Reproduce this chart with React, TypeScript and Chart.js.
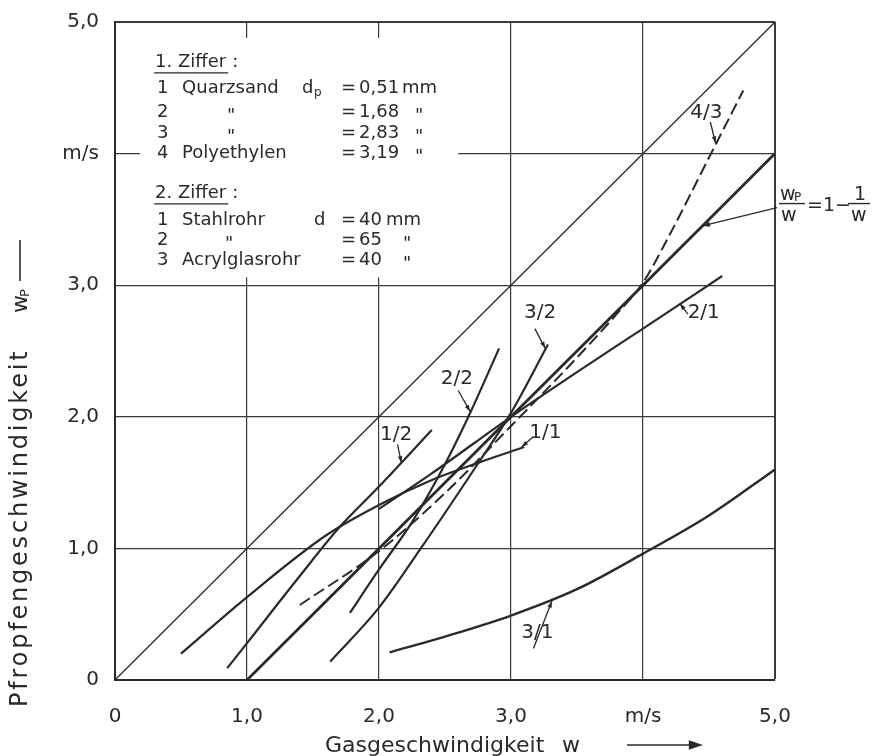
import React, { useEffect, useRef } from "react";
import { Chart, registerables } from "chart.js";
Chart.register(...registerables);

// ---------- data ----------
const xTickLabels = ["0", "1,0", "2,0", "3,0", "m/s", "5,0"];
const yTickLabels = ["0", "1,0", "2,0", "3,0", "m/s", "5,0"];

const diagW = [0, 5];
const diagWp = [0, 5];

const theoryW = [1, 2, 3, 4, 5];
const theoryWp = [0, 1, 2, 3, 4];

const c11W = [0.5, 1.0, 1.6, 2.0, 2.4, 2.75, 3.1];
const c11Wp = [0.2, 0.63, 1.1, 1.33, 1.52, 1.65, 1.77];

const c12W = [0.85, 1.0, 1.4, 1.7, 2.0, 2.4];
const c12Wp = [0.09, 0.28, 0.79, 1.16, 1.47, 1.9];

const c21W = [2.0, 2.4, 3.0, 3.5, 4.0, 4.6];
const c21Wp = [1.3, 1.57, 2.0, 2.34, 2.67, 3.07];

const c22W = [1.78, 2.0, 2.25, 2.5, 2.7, 2.91];
const c22Wp = [0.51, 0.84, 1.2, 1.64, 2.05, 2.52];

const c32W = [1.63, 2.0, 2.31, 2.74, 3.0, 3.28];
const c32Wp = [0.14, 0.55, 0.99, 1.63, 2.03, 2.55];

const c31W = [2.08, 2.5, 3.0, 3.5, 4.0, 4.5, 5.0];
const c31Wp = [0.21, 0.33, 0.49, 0.69, 0.96, 1.25, 1.6];

const c43W = [1.4, 2.0, 2.5, 3.0, 3.5, 3.8, 4.0, 4.2, 4.5, 4.76];
const c43Wp = [0.57, 0.98, 1.42, 1.93, 2.45, 2.78, 3.02, 3.38, 3.97, 4.48];

// curve labels: text, text anchor, pointer start, pointer end (data units)
const annoText = ["4/3", "2/1", "3/2", "1/1", "2/2", "1/2", "3/1"];
const annoTextW = [4.48, 4.46, 3.22, 3.26, 2.59, 2.13, 3.2];
const annoTextWp = [4.31, 2.79, 2.79, 1.88, 2.29, 1.86, 0.36];
const annoFromW = [4.51, 4.34, 3.18, 3.16, 2.6, 2.14, 3.17];
const annoFromWp = [4.24, 2.78, 2.67, 1.84, 2.2, 1.79, 0.24];
const annoToW = [4.55, 4.28, 3.26, 3.08, 2.69, 2.17, 3.31];
const annoToWp = [4.08, 2.86, 2.52, 1.77, 2.04, 1.65, 0.6];

// formula pointer
const formulaAnchor = [5.0, 3.59];
const formulaTarget = [4.45, 3.45];

// legend
const legendTitle1 = "1. Ziffer";
const legendNums1 = ["1", "2", "3", "4"];
const legendNames1 = ["Quarzsand", "\"", "\"", "Polyethylen"];
const legendVals1 = ["0,51", "1,68", "2,83", "3,19"];
const legendUnits1 = ["mm", "\"", "\"", "\""];
const legendTitle2 = "2. Ziffer";
const legendNums2 = ["1", "2", "3"];
const legendNames2 = ["Stahlrohr", "\"", "Acrylglasrohr"];
const legendVals2 = ["40", "65", "40"];
const legendUnits2 = ["mm", "\"", "\""];
const legendBoxW = [0.19, 2.6];
const legendBoxWp = [3.06, 4.88];

// ---------- styling ----------
const INK = "#2a2a2a";
const FONT = '"DejaVu Sans"';

const pts = (xs: number[], ys: number[]) => xs.map((x, i) => ({ x, y: ys[i] }));

function arrowHead(ctx: CanvasRenderingContext2D, fx: number, fy: number, tx: number, ty: number, size: number) {
  const a = Math.atan2(ty - fy, tx - fx);
  ctx.beginPath();
  ctx.moveTo(tx, ty);
  ctx.lineTo(tx - size * Math.cos(a - 0.33), ty - size * Math.sin(a - 0.33));
  ctx.lineTo(tx - size * Math.cos(a + 0.33), ty - size * Math.sin(a + 0.33));
  ctx.closePath();
  ctx.fill();
}

const overlay = {
  id: "overlay",
  beforeDraw(chart: any) {
    const { ctx, width, height } = chart;
    ctx.save();
    ctx.fillStyle = "#ffffff";
    ctx.fillRect(0, 0, width, height);
    ctx.restore();
  },
  beforeDatasetsDraw(chart: any) {
    const { ctx } = chart;
    const xs = chart.scales.x, ys = chart.scales.y;
    const l = xs.getPixelForValue(legendBoxW[0]);
    const r = xs.getPixelForValue(legendBoxW[1]);
    const t = ys.getPixelForValue(legendBoxWp[1]);
    const b = ys.getPixelForValue(legendBoxWp[0]);
    ctx.save();
    ctx.fillStyle = "#ffffff";
    ctx.fillRect(l, t, r - l, b - t);
    ctx.restore();
  },
  afterDraw(chart: any) {
    const { ctx, chartArea } = chart;
    const xs = chart.scales.x, ys = chart.scales.y;
    const X = (v: number) => xs.getPixelForValue(v);
    const Y = (v: number) => ys.getPixelForValue(v);
    ctx.save();
    ctx.fillStyle = INK;
    ctx.strokeStyle = INK;

    // curve labels
    ctx.font = `20px ${FONT}`;
    ctx.textAlign = "center";
    ctx.textBaseline = "middle";
    annoText.forEach((s, i) => {
      ctx.fillText(s, X(annoTextW[i]), Y(annoTextWp[i]));
      const fx = X(annoFromW[i]), fy = Y(annoFromWp[i]);
      const tx = X(annoToW[i]), ty = Y(annoToWp[i]);
      ctx.lineWidth = 1.3;
      ctx.beginPath();
      ctx.moveTo(fx, fy);
      ctx.lineTo(tx, ty);
      ctx.stroke();
      arrowHead(ctx, fx, fy, tx, ty, 7);
    });

    // formula wP/w = 1 - 1/w
    const ax = X(formulaAnchor[0]) + 3;
    const ay = Y(formulaAnchor[1]);
    ctx.lineWidth = 1.3;
    ctx.beginPath();
    ctx.moveTo(ax - 1, ay);
    ctx.lineTo(X(formulaTarget[0]), Y(formulaTarget[1]));
    ctx.stroke();
    arrowHead(ctx, ax - 1, ay, X(formulaTarget[0]), Y(formulaTarget[1]), 8);
    ctx.textAlign = "left";
    ctx.textBaseline = "alphabetic";
    ctx.font = `19px ${FONT}`;
    ctx.fillText("w", ax + 2, ay - 8);
    ctx.font = `12px ${FONT}`;
    ctx.fillText("P", ax + 16, ay - 7);
    ctx.lineWidth = 1.4;
    ctx.beginPath();
    ctx.moveTo(ax + 1, ay - 4);
    ctx.lineTo(ax + 27, ay - 4);
    ctx.stroke();
    ctx.font = `19px ${FONT}`;
    ctx.fillText("w", ax + 3, ay + 13);
    ctx.fillText("=1\u2212", ax + 29, ay + 3);
    ctx.fillText("1", ax + 76, ay - 8);
    ctx.beginPath();
    ctx.moveTo(ax + 70, ay - 4);
    ctx.lineTo(ax + 92, ay - 4);
    ctx.stroke();
    ctx.fillText("w", ax + 73, ay + 13);

    // legend box text
    const bl = X(legendBoxW[0]);
    const bt = Y(legendBoxWp[1]);
    ctx.font = `18px ${FONT}`;
    ctx.textBaseline = "middle";
    const row = (dy: number) => bt + dy;
    const drawTitle = (s: string, dy: number) => {
      ctx.textAlign = "left";
      ctx.fillText(s, bl + 15, row(dy));
      const w = ctx.measureText(s).width;
      ctx.fillText(":", bl + 15 + w + 6, row(dy));
      ctx.lineWidth = 1.3;
      ctx.beginPath();
      ctx.moveTo(bl + 14, row(dy) + 10);
      ctx.lineTo(bl + 15 + w + 2, row(dy) + 10);
      ctx.stroke();
    };
    drawTitle(legendTitle1, 25);
    const rows1 = [51, 75, 96, 116];
    legendNums1.forEach((n, i) => {
      const yy = row(rows1[i]);
      ctx.textAlign = "left";
      ctx.fillText(n, bl + 17, yy);
      if (legendNames1[i] === "\"") {
        ctx.textAlign = "center";
        ctx.fillText(legendNames1[i], bl + 91, yy + 4);
      } else {
        ctx.fillText(legendNames1[i], bl + 42, yy);
      }
      ctx.textAlign = "left";
      ctx.fillText("=", bl + 201, yy);
      ctx.fillText(legendVals1[i], bl + 219, yy);
      if (legendUnits1[i] === "\"") {
        ctx.textAlign = "center";
        ctx.fillText(legendUnits1[i], bl + 279, yy + 4);
      } else {
        ctx.fillText(legendUnits1[i], bl + 262, yy);
      }
    });
    // d_p
    ctx.textAlign = "left";
    ctx.fillText("d", bl + 162, row(rows1[0]));
    ctx.font = `12px ${FONT}`;
    ctx.fillText("p", bl + 174, row(rows1[0]) + 4);
    ctx.font = `18px ${FONT}`;

    drawTitle(legendTitle2, 156);
    const rows2 = [183, 203, 223];
    legendNums2.forEach((n, i) => {
      const yy = row(rows2[i]);
      ctx.textAlign = "left";
      ctx.fillText(n, bl + 17, yy);
      if (legendNames2[i] === "\"") {
        ctx.textAlign = "center";
        ctx.fillText(legendNames2[i], bl + 89, yy + 4);
      } else {
        ctx.fillText(legendNames2[i], bl + 42, yy);
      }
      ctx.textAlign = "left";
      ctx.fillText("=", bl + 201, yy);
      ctx.fillText(legendVals2[i], bl + 219, yy);
      if (legendUnits2[i] === "\"") {
        ctx.textAlign = "center";
        ctx.fillText(legendUnits2[i], bl + 267, yy + 4);
      } else {
        ctx.fillText(legendUnits2[i], bl + 246, yy);
      }
    });
    ctx.textAlign = "left";
    ctx.fillText("d", bl + 174, row(rows2[0]));

    // x axis title
    ctx.font = `22px ${FONT}`;
    ctx.textAlign = "left";
    ctx.textBaseline = "alphabetic";
    const tx0 = chartArea.left + 210;
    const tyb = chartArea.bottom + 72;
    ctx.fillText("Gasgeschwindigkeit", tx0, tyb);
    ctx.fillText("w", tx0 + 237, tyb);
    ctx.lineWidth = 1.5;
    ctx.beginPath();
    ctx.moveTo(tx0 + 302, tyb - 7);
    ctx.lineTo(tx0 + 365, tyb - 7);
    ctx.stroke();
    arrowHead(ctx, tx0 + 302, tyb - 7, tx0 + 378, tyb - 7, 15);

    // y axis title
    ctx.save();
    ctx.translate(chartArea.left - 88, chartArea.bottom + 27);
    ctx.rotate(-Math.PI / 2);
    ctx.font = `24px ${FONT}`;
    (ctx as any).letterSpacing = "2.8px";
    ctx.fillText("Pfropfengeschwindigkeit", 0, 0);
    (ctx as any).letterSpacing = "0px";
    ctx.font = `22px ${FONT}`;
    ctx.fillText("w", 394, 0);
    ctx.font = `13px ${FONT}`;
    ctx.fillText("P", 410, 2);
    ctx.lineWidth = 1.6;
    ctx.beginPath();
    ctx.moveTo(426, -7);
    ctx.lineTo(467, -7);
    ctx.stroke();
    ctx.restore();

    ctx.restore();
  },
};

export default function App() {
  const ref = useRef<HTMLCanvasElement | null>(null);
  useEffect(() => {
    if (!ref.current) return;
    const line = (d: any[], width: number, extra: any = {}) => ({
      data: d,
      showLine: true,
      borderColor: INK,
      backgroundColor: INK,
      borderWidth: width,
      pointRadius: 0,
      fill: false,
      cubicInterpolationMode: "monotone",
      ...extra,
    });
    const chart = new Chart(ref.current, {
      type: "scatter",
      data: {
        datasets: [
          line(pts(diagW, diagWp), 1.3),
          line(pts(theoryW, theoryWp), 2.8),
          line(pts(c11W, c11Wp), 2.2),
          line(pts(c12W, c12Wp), 2.2),
          line(pts(c21W, c21Wp), 2.2),
          line(pts(c22W, c22Wp), 2.2),
          line(pts(c32W, c32Wp), 2.2),
          line(pts(c31W, c31Wp), 2.4),
          line(pts(c43W, c43Wp), 2.0, { borderDash: [12, 5] }),
        ],
      },
      options: {
        responsive: false,
        animation: false,
        events: [],
        layout: { padding: { left: 0, top: 22, right: 99, bottom: 0 } },
        plugins: { legend: { display: false }, tooltip: { enabled: false } },
        scales: {
          x: {
            type: "linear",
            min: 0,
            max: 5,
            afterFit: (s: any) => { s.height = 76; s.paddingLeft = 0; s.paddingRight = 0; },
            ticks: {
              stepSize: 1,
              padding: 25,
              color: INK,
              font: { family: "DejaVu Sans", size: 20 },
              callback: (v: any) => xTickLabels[Math.round(Number(v))] ?? "",
            },
            grid: {
              color: "#3a3a3a",
              lineWidth: (c: any) => (c.tick && c.tick.value === 5 ? 2 : 1.2),
              drawTicks: false,
            },
            border: { color: "#2a2a2a", width: 2 },
          },
          y: {
            type: "linear",
            min: 0,
            max: 5,
            afterFit: (s: any) => { s.width = 115; s.paddingTop = 0; s.paddingBottom = 0; },
            ticks: {
              stepSize: 1,
              padding: 16,
              color: INK,
              font: { family: "DejaVu Sans", size: 20 },
              callback: (v: any) => yTickLabels[Math.round(Number(v))] ?? "",
            },
            grid: {
              color: "#3a3a3a",
              lineWidth: (c: any) => (c.tick && c.tick.value === 5 ? 2 : 1.2),
              drawTicks: false,
            },
            border: { color: "#2a2a2a", width: 2 },
          },
        },
      },
      plugins: [overlay],
    } as any);
    return () => chart.destroy();
  }, []);
  return (
    <div style={{ position: "absolute", left: 0, top: 0, width: 874, height: 756, background: "#fff" }}>
      <canvas ref={ref} width={874} height={756} />
    </div>
  );
}
